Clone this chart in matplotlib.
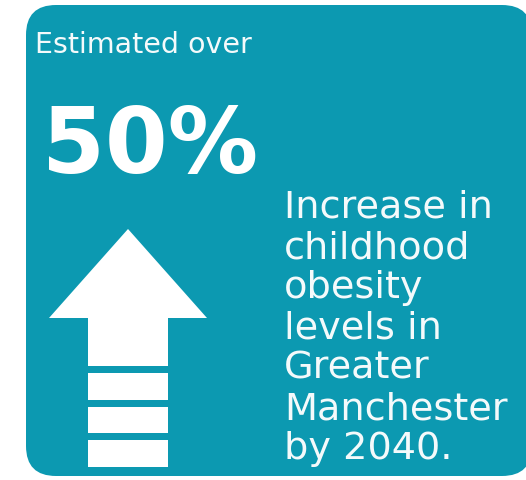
import matplotlib
matplotlib.use("Agg")
import matplotlib.pyplot as plt
from matplotlib.patches import FancyBboxPatch, Polygon, Rectangle

# Infographic content
intro_text = "Estimated over"
percent_value = 50
label_lines = ["Increase in", "childhood", "obesity", "levels in",
               "Greater", "Manchester", "by 2040."]
stripe_count = 3

TEAL = "#0c99b1"
TEXT = "#f4fafb"

fig = plt.figure(figsize=(5.26, 4.80), dpi=100)
ax = fig.add_axes([0, 0, 1, 1])
ax.set_xlim(0, 526)
ax.set_ylim(480, 0)
ax.axis("off")

# Rounded teal panel (right edge runs off the canvas)
panel = FancyBboxPatch((26, 5), 506, 471,
                       boxstyle="round,pad=0,rounding_size=30",
                       facecolor=TEAL, edgecolor="none")
ax.add_patch(panel)

ax.text(35, 53, intro_text, color=TEXT, fontsize=20.5,
        family="DejaVu Sans", va="baseline", ha="left")
ax.text(42, 173, f"{percent_value}%", color="white", fontsize=65,
        fontweight="bold", family="DejaVu Sans", va="baseline", ha="left")

# Arrow head and shaft
ax.add_patch(Polygon([(128, 229), (207, 318), (49, 318)], closed=True,
                     facecolor="white", edgecolor="none"))
ax.add_patch(Rectangle((88, 317), 80, 49, facecolor="white", edgecolor="none"))

# Stripes under the shaft
for i in range(stripe_count):
    top = 373 + i * 33.5
    ax.add_patch(Rectangle((88, top), 80, 26.5, facecolor="white",
                           edgecolor="none"))

# Right-hand label
for i, line in enumerate(label_lines):
    ax.text(284, 218 + i * 40.2, line, color=TEXT, fontsize=27.5,
            family="DejaVu Sans", va="baseline", ha="left")

fig.savefig("out.png", dpi=100, facecolor="white")
